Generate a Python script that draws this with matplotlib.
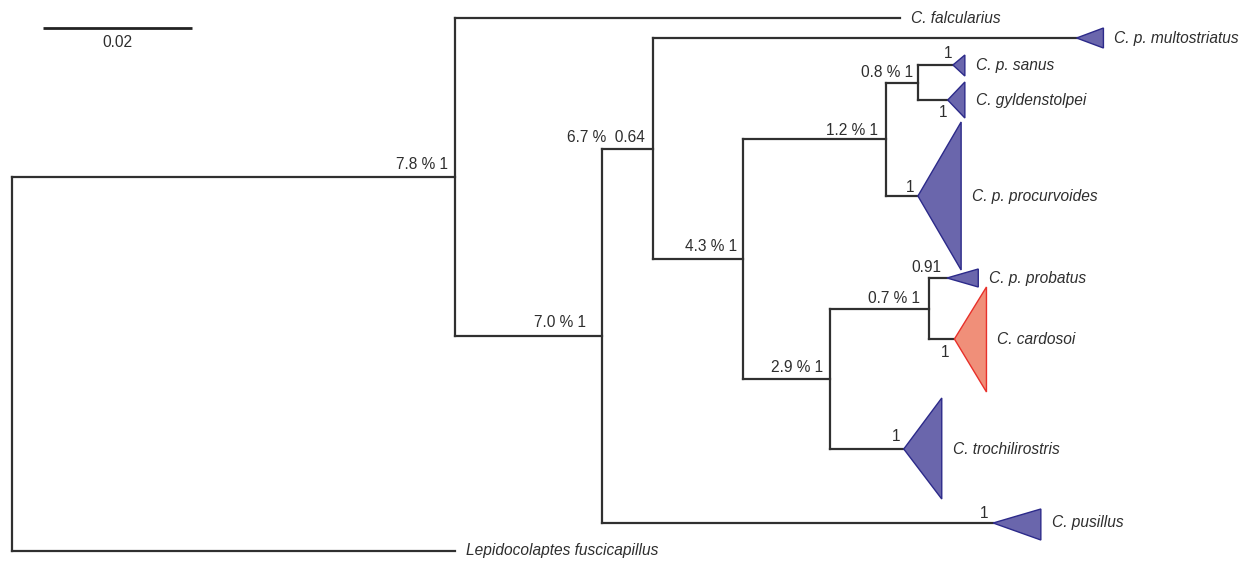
import matplotlib
matplotlib.use("Agg")
import matplotlib.pyplot as plt
from matplotlib.patches import Polygon
from matplotlib import font_manager

# ---------------- data ----------------
# tree: node ids, parents, branch lengths (substitutions/site)
node_ids = ["root", "A", "Lep", "falc", "B", "C", "multo", "D", "E", "F",
            "sanus", "gyld", "procurv", "G", "H", "probatus", "cardosoi",
            "troch", "pusillus"]
parents = [None, "root", "root", "A", "A", "B", "C", "C", "D", "E",
           "F", "F", "E", "D", "G", "H", "H", "G", "B"]
branch_lengths = [0.0, 0.0595, 0.0595, 0.0597, 0.0197, 0.0068, 0.0569, 0.0121,
                  0.0192, 0.0043, 0.0047, 0.0040, 0.0043, 0.0117, 0.0133,
                  0.0024, 0.0034, 0.0099, 0.0525]

tip_ids = ["falc", "multo", "sanus", "gyld", "procurv", "probatus",
           "cardosoi", "troch", "pusillus", "Lep"]
tip_names = ["C. falcularius", "C. p. multostriatus", "C. p. sanus",
             "C. gyldenstolpei", "C. p. procurvoides", "C. p. probatus",
             "C. cardosoi", "C. trochilirostris", "C. pusillus",
             "Lepidocolaptes fuscicapillus"]

internal_ids = ["A", "B", "C", "D", "E", "F", "G", "H"]
internal_labels = ["7.8 % 1", "7.0 % 1", "6.7 %  0.64", "4.3 % 1",
                   "1.2 % 1", "0.8 % 1", "2.9 % 1", "0.7 % 1"]

support_ids = ["sanus", "gyld", "procurv", "probatus", "cardosoi", "troch", "pusillus"]
support_labels = ["1", "1", "1", "0.91", "1", "1", "1"]

# collapsed clades: depth of the clade (substitutions/site)
clade_ids = ["multo", "sanus", "gyld", "procurv", "probatus", "cardosoi", "troch", "pusillus"]
clade_depths = [0.0036, 0.0016, 0.0023, 0.0058, 0.0042, 0.0043, 0.0051, 0.0064]
clade_groups = ["other", "other", "other", "other", "other", "cardosoi", "other", "other"]

scale_value = 0.02

# ---------------- layout ----------------
PX = 1 / 7450.0  # data units per pixel
tip_y = {"falc": 18, "multo": 38, "sanus": 65, "gyld": 100, "procurv": 196,
         "probatus": 278, "cardosoi": 339, "troch": 449, "pusillus": 523, "Lep": 551}
clade_half = {"multo": (10, 10), "sanus": (10, 11), "gyld": (18, 18),
              "procurv": (74, 74), "probatus": (9, 9), "cardosoi": (52, 53),
              "troch": (51, 50), "pusillus": (14, 17)}
internal_off = {"A": (-7, -12), "B": (-16, -13), "C": (-8, -11), "D": (-6, -13),
                "E": (-8, -9), "F": (-5, -10), "G": (-7, -11), "H": (-9, -10)}
support_off = {"sanus": (-5, -12), "gyld": (-5, 12), "procurv": (-8, -9),
               "probatus": (-21, -11), "cardosoi": (-9, 13), "troch": (-8, -13),
               "pusillus": (-9, -9)}
tip_label_pad = 11

available = {f.name for f in font_manager.fontManager.ttflist}
if "Liberation Sans Narrow" in available:
    FONT = "Liberation Sans Narrow"
    FS = 13
else:
    FONT = "Liberation Sans"
    FS = 11.2
TEXT_COLOR = "#2e2e2e"
LINE_COLOR = "#303030"
LW = 1.6
fills = {"other": ("#6a66ac", "#2c2a8a"), "cardosoi": ("#f08f79", "#e8302a")}

# ---------------- compute positions ----------------
par = dict(zip(node_ids, parents))
bl = dict(zip(node_ids, branch_lengths))
children = {n: [] for n in node_ids}
for n, p in par.items():
    if p is not None:
        children[p].append(n)

x = {}
def set_x(n, base):
    x[n] = base + bl[n]
    for c in children[n]:
        set_x(c, x[n])
set_x("root", 0.0)

y = {}
def set_y(n):
    if not children[n]:
        y[n] = tip_y[n]
    else:
        ys = [set_y(c) for c in children[n]]
        y[n] = (min(ys) + max(ys)) / 2
    return y[n]
set_y("root")

# ---------------- draw ----------------
fig = plt.figure(figsize=(12.56, 5.61), dpi=100)
ax = fig.add_axes([0, 0, 1, 1])
ax.set_xlim(-12 * PX, 1244 * PX)
ax.set_ylim(561, 0)
ax.axis("off")

for n in node_ids:
    p = par[n]
    if p is not None:
        ax.plot([x[p], x[n]], [y[n], y[n]], color=LINE_COLOR, lw=LW,
                solid_capstyle="projecting", zorder=2)
    if children[n]:
        cy = [y[c] for c in children[n]]
        ax.plot([x[n], x[n]], [min(cy), max(cy)], color=LINE_COLOR, lw=LW,
                solid_capstyle="projecting", zorder=2)

clade_depth = dict(zip(clade_ids, clade_depths))
clade_group = dict(zip(clade_ids, clade_groups))
for c in clade_ids:
    up, dn = clade_half[c]
    fc, ec = fills[clade_group[c]]
    tri = Polygon([(x[c], y[c]), (x[c] + clade_depth[c], y[c] - up),
                   (x[c] + clade_depth[c], y[c] + dn)], closed=True,
                  facecolor=fc, edgecolor=ec, lw=1.0, zorder=3)
    ax.add_patch(tri)

for t, name in zip(tip_ids, tip_names):
    xe = x[t] + clade_depth.get(t, 0.0)
    ax.text(xe + tip_label_pad * PX, y[t], name, fontstyle="italic",
            family=FONT, fontsize=FS, color=TEXT_COLOR, ha="left", va="center")

for n, lab in zip(internal_ids, internal_labels):
    dx, dy = internal_off[n]
    ax.text(x[n] + dx * PX, y[n] + dy, lab, family=FONT, fontsize=FS,
            color=TEXT_COLOR, ha="right", va="center")

for n, lab in zip(support_ids, support_labels):
    dx, dy = support_off[n]
    ax.text(x[n] + dx * PX, y[n] + dy, lab, family=FONT, fontsize=FS,
            color=TEXT_COLOR, ha="center", va="center")

# scale bar
sb_x0 = 31 * PX
ax.plot([sb_x0, sb_x0 + scale_value], [28, 28], color="#222222", lw=2.0,
        solid_capstyle="butt")
ax.text(sb_x0 + scale_value / 2, 42, f"{scale_value:.2f}", family=FONT,
        fontsize=FS, color=TEXT_COLOR, ha="center", va="center")

fig.savefig("out.png", dpi=100, facecolor="white")
